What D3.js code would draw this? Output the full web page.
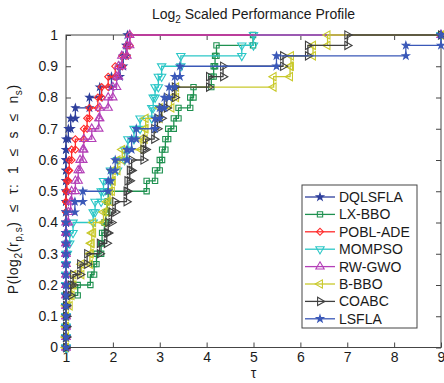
<!DOCTYPE html>
<html>
<head>
<meta charset="utf-8">
<script src="https://cdn.jsdelivr.net/npm/d3@7"></script>
<style>
  body { margin: 0; background: #fff; }
  text { font-family: "Liberation Sans", Arial, sans-serif; fill: #1a1a1a; }
</style>
</head>
<body>
<div id="chart"></div>
<script>
// legend order = drawing order
const seriesNames = ["DQLSFLA", "LX-BBO", "POBL-ADE", "MOMPSO", "RW-GWO", "B-BBO", "COABC", "LSFLA"];
const seriesColors = ["#2e3f9c", "#1f9150", "#ff2a2a", "#2cc7c7", "#b440b8", "#c9c92c", "#404040", "#3a58b8"];
const seriesMarkers = ["star", "square", "diamond", "triDown", "triUp", "triLeft", "triRight", "star"];

// sorted performance ratios per solver (30 problems)
const dqlsfla = [1, 1, 1, 1, 1, 1, 1, 1, 1, 1, 1, 1, 1, 1, 1, 1, 1, 1, 1, 1, 1.05, 1.1, 1.2, 1.5, 1.72, 1.97, 2.15, 2.22, 2.28, 2.31];
const lxbbo = [1, 1, 1, 1, 1, 1.25, 1.52, 1.6, 1.65, 1.75, 1.77, 1.82, 1.85, 1.88, 1.9, 2.72, 2.9, 3.0, 3.05, 3.12, 3.18, 3.3, 3.4, 3.65, 3.72, 4.1, 4.15, 4.18, 4.21, 4.99];
const pobl = [1, 1, 1, 1, 1, 1, 1, 1, 1, 1, 1, 1, 1, 1, 1, 1.02, 1.05, 1.07, 1.12, 1.2, 1.38, 1.45, 1.5, 1.68, 1.76, 1.9, 2.05, 2.2, 2.3, 2.36];
const mompso = [1, 1, 1, 1, 1, 1, 1, 1, 1, 1.03, 1.08, 1.15, 1.58, 1.62, 1.75, 1.8, 1.95, 2.1, 2.25, 2.32, 2.45, 2.58, 2.83, 2.86, 2.9, 2.97, 3.04, 3.45, 4.75, 5.0];
const rwgwo = [1, 1, 1, 1, 1, 1, 1, 1, 1, 1, 1, 1, 1.05, 1.1, 1.12, 1.2, 1.26, 1.3, 1.36, 1.38, 1.55, 1.7, 1.72, 1.9, 2.0, 2.08, 2.12, 2.19, 2.3, 2.36];
const bbbo = [1, 1, 1, 1, 1.08, 1.12, 1.16, 1.33, 1.51, 1.53, 1.55, 1.58, 1.8, 1.87, 1.94, 1.98, 2.0, 2.1, 2.2, 2.6, 2.68, 2.7, 3.0, 3.25, 3.35, 5.43, 5.78, 5.8, 6.27, 6.58];
const coabc = [1, 1, 1, 1, 1, 1.1, 1.15, 1.3, 1.45, 1.72, 1.87, 1.9, 1.97, 2.05, 2.29, 2.31, 2.36, 2.4, 2.65, 2.7, 2.88, 2.95, 3.04, 3.15, 3.32, 4.05, 4.35, 5.63, 6.16, 7.0];
const lsfla = [1, 1, 1, 1, 1, 1, 1, 1, 1, 1, 1, 1, 1, 1.19, 1.36, 1.9, 1.95, 2.05, 2.3, 2.4, 2.5, 2.9, 3.0, 3.1, 3.2, 3.32, 3.43, 5.49, 8.25, 9.0];
const seriesRatios = [dqlsfla, lxbbo, pobl, mompso, rwgwo, bbbo, coabc, lsfla];

const xTicks = [1, 2, 3, 4, 5, 6, 7, 8, 9];
const yTicks = [0, 0.1, 0.2, 0.3, 0.4, 0.5, 0.6, 0.7, 0.8, 0.9, 1];
const yTickLabels = ["0", "0.1", "0.2", "0.3", "0.4", "0.5", "0.6", "0.7", "0.8", "0.9", "1"];

const width = 444, height = 383;
const plot = { left: 66, right: 441, top: 35, bottom: 347.5 };
const axisColor = "#454545";

const svg = d3.select("#chart").append("svg")
    .attr("width", width)
    .attr("height", height);

const x = d3.scaleLinear().domain([xTicks[0], xTicks[xTicks.length - 1]]).range([plot.left, plot.right]);
const y = d3.scaleLinear().domain([0, 1]).range([plot.bottom, plot.top]);

// axes (inward ticks on all four sides, like a matlab box)
const gx = svg.append("g")
    .attr("transform", "translate(0," + plot.bottom + ")")
    .call(d3.axisBottom(x).tickValues(xTicks).tickSize(-5).tickPadding(5).tickFormat(d3.format("d")));
const gxt = svg.append("g")
    .attr("transform", "translate(0," + plot.top + ")")
    .call(d3.axisTop(x).tickValues(xTicks).tickSize(-5).tickFormat(""));
const gy = svg.append("g")
    .attr("transform", "translate(" + plot.left + ",0)")
    .call(d3.axisLeft(y).tickValues(yTicks).tickSize(-5).tickPadding(8).tickFormat((d, i) => yTickLabels[i]));
const gyr = svg.append("g")
    .attr("transform", "translate(" + plot.right + ",0)")
    .call(d3.axisRight(y).tickValues(yTicks).tickSize(-5).tickFormat(""));

[gx, gxt, gy, gyr].forEach(g => {
  g.select(".domain").remove();
  g.selectAll(".tick line").attr("stroke", axisColor);
  g.selectAll(".tick text").attr("font-size", 14).attr("font-family", "Liberation Sans, Arial, sans-serif").attr("fill", "#1a1a1a");
});

svg.append("rect")
    .attr("x", plot.left).attr("y", plot.top)
    .attr("width", plot.right - plot.left).attr("height", plot.bottom - plot.top)
    .attr("fill", "none").attr("stroke", axisColor).attr("stroke-width", 1);

// marker helper
function marker(g, type, cx, cy, color) {
  let sym, size, rot = 0, filled = false;
  if (type === "star") { sym = d3.symbolStar; size = 15; filled = true; }
  else if (type === "square") { sym = d3.symbolSquare; size = 28; }
  else if (type === "diamond") { sym = d3.symbolSquare; size = 24; rot = 45; }
  else {
    sym = d3.symbolTriangle; size = 30;
    rot = { triUp: 0, triDown: 180, triLeft: -90, triRight: 90 }[type];
  }
  g.append("path")
      .attr("d", d3.symbol().type(sym).size(size)())
      .attr("transform", "translate(" + cx + "," + cy + ") rotate(" + rot + ")")
      .attr("fill", filled ? color : "none")
      .attr("stroke", color)
      .attr("stroke-width", 1.1);
}

// stairs vertices, as matlab's stairs() would give them
function stairs(r) {
  const n = r.length;
  const pts = [[xTicks[0], 0]];
  r.forEach((v, i) => {
    pts.push([v, i / n]);
    pts.push([v, (i + 1) / n]);
  });
  pts.push([xTicks[xTicks.length - 1], 1]);
  return pts;
}

const line = d3.line().x(d => x(d[0])).y(d => y(d[1]));

seriesRatios.forEach((r, s) => {
  const pts = stairs(r);
  const g = svg.append("g").attr("class", "series");
  g.append("path")
      .attr("d", line(pts))
      .attr("fill", "none")
      .attr("stroke", seriesColors[s])
      .attr("stroke-width", 1.3);
  pts.forEach(p => marker(g, seriesMarkers[s], x(p[0]), y(p[1]), seriesColors[s]));
});

// title
const title = svg.append("text")
    .attr("x", (plot.left + plot.right) / 2).attr("y", 19)
    .attr("text-anchor", "middle").attr("font-size", 14);
title.append("tspan").text("Log");
title.append("tspan").attr("dy", 4).attr("font-size", 10).text("2");
title.append("tspan").attr("dy", -4).text(" Scaled Performance Profile");

// x label
svg.append("text")
    .attr("x", (plot.left + plot.right) / 2).attr("y", 378)
    .attr("text-anchor", "middle").attr("font-size", 14)
    .text("τ");

// y label
const yl = svg.append("text")
    .attr("transform", "translate(18," + ((plot.top + plot.bottom) / 2 - 2) + ") rotate(-90)")
    .attr("text-anchor", "middle").attr("font-size", 14)
    .attr("letter-spacing", 0.6).attr("word-spacing", 5);
yl.append("tspan").text("P(log");
yl.append("tspan").attr("dy", 4).attr("font-size", 10).text("2");
yl.append("tspan").attr("dy", -4).text("(r");
yl.append("tspan").attr("dy", 4).attr("font-size", 10).text("p,s");
yl.append("tspan").attr("dy", -4).text(") ≤ τ: 1 ≤ s ≤ n");
yl.append("tspan").attr("dy", 4).attr("font-size", 10).text("s");
yl.append("tspan").attr("dy", -4).text(")");

// legend
const lg = svg.append("g");
lg.append("rect")
    .attr("x", 302).attr("y", 185).attr("width", 115).attr("height", 143)
    .attr("fill", "#fff").attr("stroke", axisColor).attr("stroke-width", 1);
seriesNames.forEach((name, i) => {
  const cy = 197 + i * 17.4;
  lg.append("line")
      .attr("x1", 305).attr("x2", 335).attr("y1", cy).attr("y2", cy)
      .attr("stroke", seriesColors[i]).attr("stroke-width", 1.3);
  marker(lg, seriesMarkers[i], 320, cy, seriesColors[i]);
  lg.append("text")
      .attr("x", 339).attr("y", cy + 5)
      .attr("font-size", 14)
      .text(name);
});
</script>
</body>
</html>
